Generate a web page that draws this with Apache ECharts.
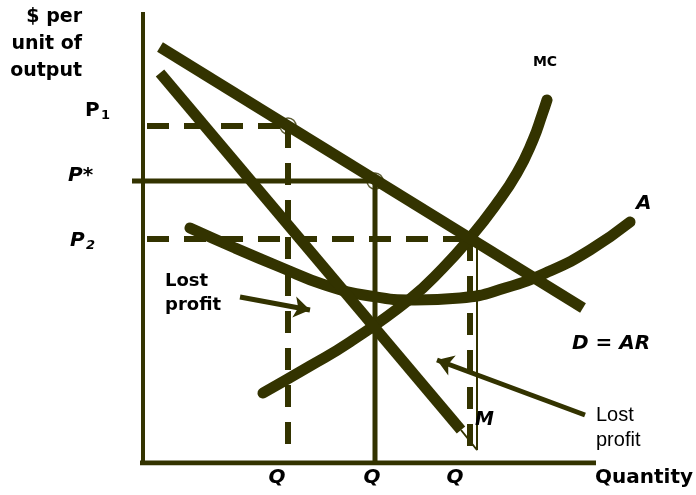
<!DOCTYPE html>
<html><head><meta charset="utf-8">
<script src="https://cdn.jsdelivr.net/npm/echarts@6/dist/echarts.min.js"></script>
<style>html,body{margin:0;padding:0;background:#fff}#c{width:696px;height:495px}</style>
</head><body><div id="c"></div>
<script>
const INK = '#333300';
// Plot units: quantity to the right, $ per unit upward
const demandAR = [[17, 416], [440, 155]];
const marginalRevenue = [[17, 390], [318, 33]];
const mrThinTail = [[318, 33], [334, 13], [334, 224]];
const marginalCost = [[120,70],[167,97],[207,121],[267,164],[300,195],[327,225],[352,257],[374,290],[390,323],[399,348],[404,363]];
const averageCost = [[47,235],[92,215],[137,196],[182,178],[227,167],[272,163],[317,165],[362,175],[407,192],[447,213],[487,241]];
const p1 = 337, pStar = 282, p2 = 224;
const q1 = 145, qStar = 232, q2 = 327;
const quantityAxisEnd = 453, priceAxisTop = 451;
const lostProfitArrowLeft = [[97,166],[167,153]];
const lostProfitArrowRight = [[442,48],[294,103]];
const qTickLabels = ['Q', 'Q', 'Q'];
const yAxisTitle = ['$ per', 'unit of', 'output'];

const chart = echarts.init(document.getElementById('c'), null, {renderer:'canvas'});
function seg(data, width, type, z) {
  return {type:'line', data:data, symbol:'none', silent:true, z:z||2,
    lineStyle:{color:INK, width:width, type:type||'solid', cap:'butt'}};
}
function thick(data, cap, smooth) {
  return {type:'line', data:data, symbol:'none', silent:true, z:4,
    smooth: smooth||false,
    lineStyle:{color:INK, width:11, cap:cap, join:'round'}};
}
const BOLD = '"DejaVu Sans"';
function txt(x, y, text, size, opts) {
  opts = opts || {};
  return {type:'text', x:x, y:y, z:100, silent:true, style:{
    text:text, fill:'#000',
    font:(opts.italic?'italic ':'') + (opts.regular?'':'bold ') + size + 'px ' + (opts.family||BOLD),
    textAlign:opts.align||'left', align:opts.align||'left',
    textVerticalAlign:'middle', verticalAlign:'middle'}};
}
const qPix = [277, 372, 455];
const graphics = [
  txt(82, 17, yAxisTitle[0], 19, {align:'right'}),
  txt(82, 44, yAxisTitle[1], 19, {align:'right'}),
  txt(82, 71, yAxisTitle[2], 19, {align:'right'}),
  txt(85, 111, 'P', 20),
  txt(101, 116, '1', 13),
  txt(68, 176, 'P*', 20, {italic:true}),
  txt(70, 241, 'P', 20, {italic:true}),
  txt(86, 246, '2', 13, {italic:true}),
  txt(545, 62, 'MC', 14, {align:'center'}),
  txt(636, 204, 'A', 20, {italic:true}),
  txt(572, 344, 'D = AR', 20, {italic:true}),
  txt(165, 281, 'Lost', 18),
  txt(165, 305, 'profit', 18),
  txt(596, 415, 'Lost', 20, {regular:true, family:'"Liberation Sans", Arial'}),
  txt(596, 440, 'profit', 20, {regular:true, family:'"Liberation Sans", Arial'}),
  txt(475, 420, 'M', 19, {italic:true}),
  txt(595, 478, 'Quantity', 20)
];
qTickLabels.forEach(function(t, i){ graphics.push(txt(qPix[i], 478, t, 20, {italic:true, align:'center'})); });

const hidden = {axisLine:{show:false}, axisTick:{show:false}, axisLabel:{show:false}, splitLine:{show:false}};
chart.setOption({
  animation:false,
  backgroundColor:'#fff',
  grid:{left:132, right:66, top:12, bottom:32, containLabel:false},
  xAxis:Object.assign({type:'value', min:-11, max:487}, hidden),
  yAxis:Object.assign({type:'value', min:0, max:priceAxisTop}, hidden),
  series:[
    // axes
    seg([[0,0],[0,priceAxisTop]], 4, 'solid', 1),
    seg([[-3,0],[quantityAxisEnd,0]], 5, 'solid', 1),
    // guide lines
    seg([[4,p1],[q1,p1]], 6, [22,15]),
    seg([[q1,p1],[q1,16]], 6, [22,15]),
    seg([[4,p2],[q2,p2]], 6, [22,15]),
    seg([[q2,p2],[q2,7]], 6, [22,15]),
    seg([[-11,pStar],[qStar,pStar]], 5),
    seg([[qStar,pStar],[qStar,0]], 5),
    seg(mrThinTail, 2),
    {type:'scatter', data:[[q1,p1],[qStar,pStar]], symbol:'circle', symbolSize:16, silent:true, z:3,
      itemStyle:{color:'rgba(0,0,0,0)', borderColor:INK, borderWidth:1.5}},
    thick(averageCost, 'round', 0.5),
    thick(marginalCost, 'round', 0.5),
    thick(marginalRevenue, 'butt'),
    thick(demandAR, 'butt'),
    {type:'lines', coordinateSystem:'cartesian2d', silent:true, z:5,
      symbol:['none','arrow'], symbolSize:16,
      lineStyle:{color:INK, width:5, opacity:1, curveness:0},
      data:[{coords:lostProfitArrowLeft},{coords:lostProfitArrowRight}]}
  ],
  graphic:graphics
});
</script></body></html>
